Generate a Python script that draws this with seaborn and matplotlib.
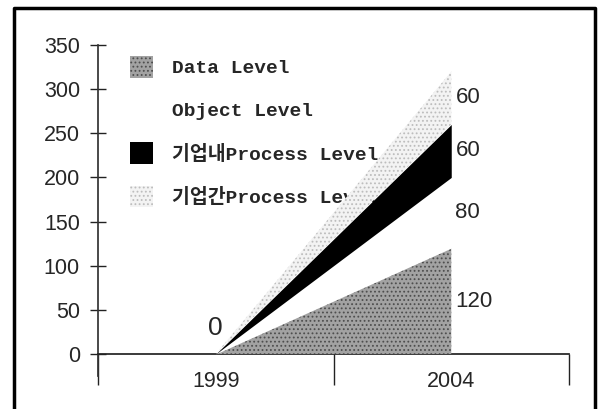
import matplotlib
matplotlib.use("Agg")
import matplotlib.pyplot as plt
import seaborn as sns
import pandas as pd
import numpy as np
from matplotlib.lines import Line2D

# chart data
years = ["1999", "2004"]
data_level = [0, 120]
object_level = [0, 80]
internal_process = [0, 60]
external_process = [0, 60]
series_names = ["Data Level", "Object Level", "기업내Process Level", "기업간Process Level"]

df = pd.DataFrame(
    {
        "Year": years,
        series_names[0]: data_level,
        series_names[1]: object_level,
        series_names[2]: internal_process,
        series_names[3]: external_process,
    }
)

sns.set_theme(style="white")
plt.rcParams["font.family"] = ["Liberation Sans", "Noto Sans CJK KR"]
plt.rcParams["hatch.linewidth"] = 0.8

fig = plt.figure(figsize=(6, 4.09), dpi=100)
ax = fig.add_axes([98 / 600, 55 / 409, 471 / 600, 309 / 409])

x = np.arange(len(df))
values = [df[name].values for name in series_names]
faces = ["#a2a2a2", "white", "black", "#f3f3f3"]
hatches = ["....", None, None, "...."]
hatch_colors = ["#4e4e4e", "white", "black", "#bdbdbd"]

polys = ax.stackplot(x, *values, labels=series_names, colors=faces, linewidth=0)
for poly, h, hc in zip(polys, hatches, hatch_colors):
    if h:
        poly.set_hatch(h)
        poly.set_edgecolor(hc)
    poly.set_linewidth(0)
    poly.set_zorder(3)

# value labels
cum = np.cumsum(np.array(values), axis=0)
for i in range(len(series_names)):
    top = cum[i][-1]
    mid = top - values[i][-1] / 2
    ax.annotate(str(values[i][-1]), (x[-1], mid), xytext=(3, 0),
                textcoords="offset points", ha="left", va="center", fontsize=16)
ax.annotate(str(int(cum[-1][0])), (x[0], 0), xytext=(0, 10),
            textcoords="offset points", ha="center", va="bottom", fontsize=19)

ax.set_xlim(-0.5, len(years) - 0.5)
ax.set_ylim(0, 350)
ax.set_yticks(range(0, 351, 50))
ax.set_xticks(x)
ax.set_xticklabels(years)
ax.set_xticks(np.arange(-0.5, len(years), 1), minor=True)
ax.tick_params(axis="x", which="major", length=0, pad=12, labelsize=15.5)
ax.tick_params(axis="x", which="minor", length=22, width=1, direction="out", color="#222222", bottom=True)
ax.tick_params(axis="y", which="major", length=12, width=1, direction="inout", color="#222222",
               pad=7, labelsize=15.5, left=True)

sns.despine(ax=ax)
ax.spines["left"].set_color("#333333")
ax.spines["bottom"].set_color("#222222")
ax.spines["left"].set_bounds(-25, 350)

# legend (drawn beneath the areas, as in the original)
handles = []
for f, h, hc in zip(faces, hatches, hatch_colors):
    p = matplotlib.patches.Patch(facecolor=f, hatch=h, edgecolor=hc if h else f, linewidth=0)
    handles.append(p)
leg = ax.legend(handles, series_names, loc="upper left", bbox_to_anchor=(0.052, 0.99),
                frameon=False, handlelength=1.15, handleheight=1.35, handletextpad=1.0,
                labelspacing=1.1, borderaxespad=0,
                prop={"family": ["Liberation Mono", "Noto Sans CJK KR"], "size": 14,
                      "weight": "bold"})
leg.set_zorder(1)

# outer frame
frame = Line2D([14 / 600, 14 / 600, 595 / 600, 595 / 600],
               [-0.05, 1 - 8 / 409, 1 - 8 / 409, -0.05],
               transform=fig.transFigure, color="black", linewidth=2.5)
fig.add_artist(frame)

fig.savefig("out.png", dpi=100)
